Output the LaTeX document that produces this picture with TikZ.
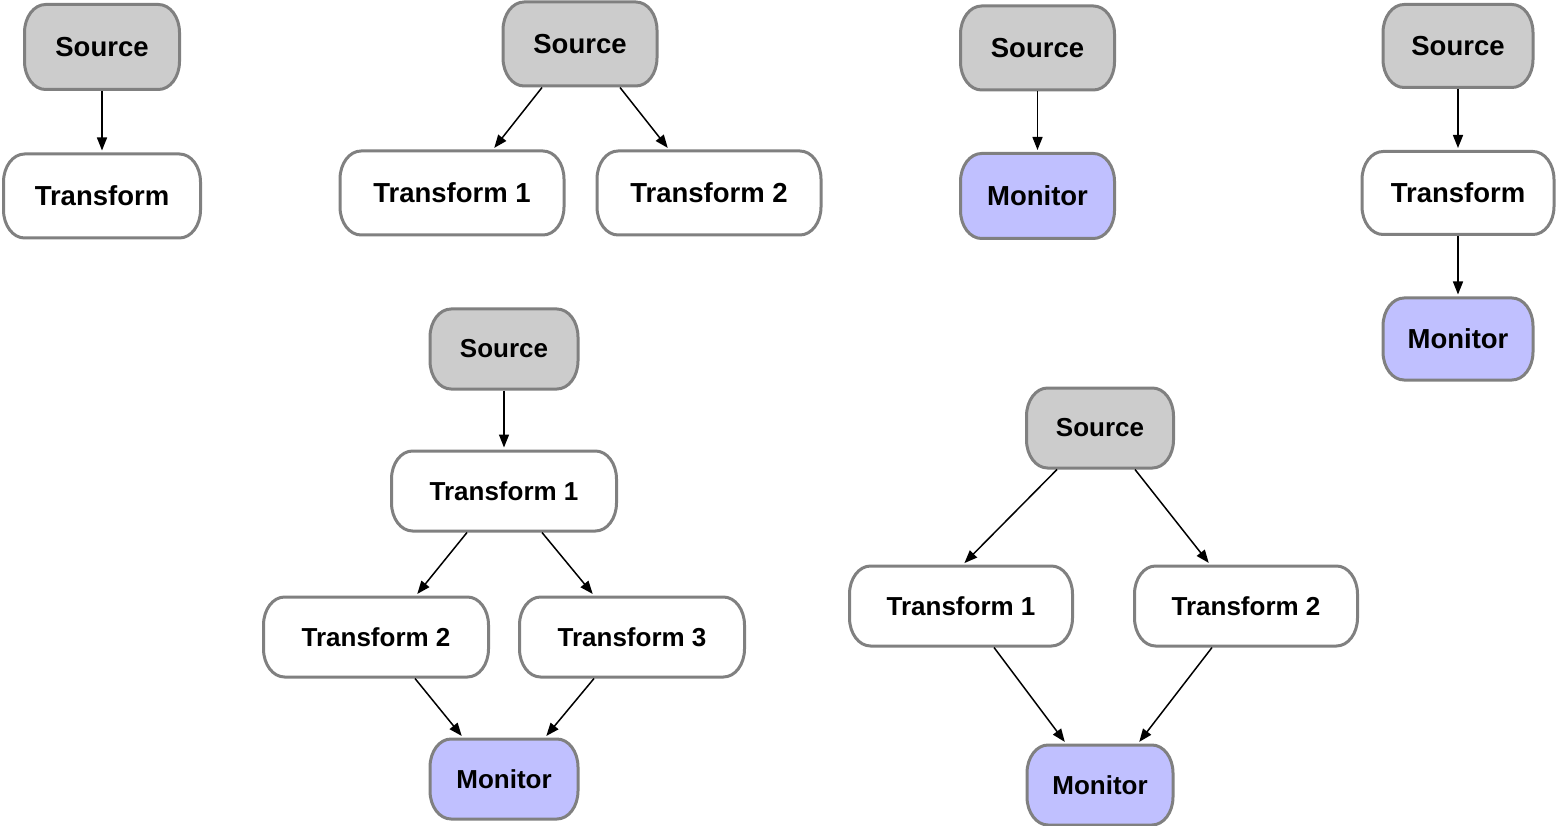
\documentclass[tikz,border=0pt]{standalone}
\usepackage{fontspec}
\setmainfont{Liberation Sans}
\usetikzlibrary{arrows.meta}
\definecolor{srcfill}{HTML}{CCCCCC}
\definecolor{monfill}{HTML}{C0C0FF}
\definecolor{edge}{HTML}{808080}
\tikzset{
  outline/.style={draw=edge, line width=3pt},
  caption/.style={inner sep=0pt, outer sep=1.5pt, align=center},
  big/.style={font=\fontsize{27.5}{32}\bfseries\selectfont},
  small/.style={font=\fontsize{26}{30}\bfseries\selectfont},
  flow/.style={line width=1.5pt, -{Triangle[length=13pt,width=10pt]}, shorten >=2pt}
}
% pill with elliptical corners: fill, font, name, x, y, width, height, text
\newcommand\pill[8]{%
  \pgfmathsetmacro\phw{#6/2}%
  \pgfmathsetmacro\phh{#7/2}%
  \def\prx{21}\def\pry{28}%
  \begin{scope}[shift={(#4,#5)}]
    \path[outline, fill=#1]
      (-\phw+\prx,-\phh) -- (\phw-\prx,-\phh)
      arc[start angle=90, end angle=0, x radius=\prx pt, y radius=\pry pt]
      -- (\phw,\phh-\pry)
      arc[start angle=0, end angle=-90, x radius=\prx pt, y radius=\pry pt]
      -- (-\phw+\prx,\phh)
      arc[start angle=-90, end angle=-180, x radius=\prx pt, y radius=\pry pt]
      -- (-\phw,-\phh+\pry)
      arc[start angle=180, end angle=90, x radius=\prx pt, y radius=\pry pt]
      -- cycle;
  \end{scope}
  \node[caption, #2, minimum width=#6pt, minimum height=#7pt] (#3) at (#4,#5) {#8};
}
\begin{document}
\begin{tikzpicture}[x=1pt,y=-1pt]
\useasboundingbox (0,0) rectangle (1556,826);

% single transform
\pill{srcfill}{big}{a1}{102}{47}{155}{85}{Source}
\pill{white}{big}{a2}{102}{196}{197}{84}{Transform}
\draw[flow] (a1.south) -- (a2.north);

% fan-out to two transforms
\pill{srcfill}{big}{b1}{580}{44}{154}{84}{Source}
\pill{white}{big}{b2}{452}{193}{224}{84}{Transform 1}
\pill{white}{big}{b3}{709}{193}{224}{84}{Transform 2}
\draw[flow] ([xshift=-38pt]b1.south) -- ([xshift=41pt]b2.north);
\draw[flow] ([xshift=40pt]b1.south) -- ([xshift=-40pt]b3.north);

% source straight to monitor
\pill{srcfill}{big}{c1}{1037.5}{48}{154}{84}{Source}
\pill{monfill}{big}{c2}{1037.5}{196}{154}{85}{Monitor}
\draw[flow] (c1.south) -- (c2.north);

% linear chain
\pill{srcfill}{big}{d1}{1458}{46}{150}{83}{Source}
\pill{white}{big}{d2}{1458}{193}{192}{83}{Transform}
\pill{monfill}{big}{d3}{1458}{339}{150}{82}{Monitor}
\draw[flow] (d1.south) -- (d2.north);
\draw[flow] (d2.south) -- (d3.north);

% diamond after a shared transform
\pill{srcfill}{small}{e1}{504}{349}{148}{80}{Source}
\pill{white}{small}{e2}{504}{491}{225}{80}{Transform 1}
\pill{white}{small}{e3}{376}{637}{225}{80}{Transform 2}
\pill{white}{small}{e4}{632}{637}{225}{80}{Transform 3}
\pill{monfill}{small}{e5}{504}{779}{148}{80}{Monitor}
\draw[flow] (e1.south) -- (e2.north);
\draw[flow] ([xshift=-37pt]e2.south) -- ([xshift=40pt]e3.north);
\draw[flow] ([xshift=38pt]e2.south) -- ([xshift=-38pt]e4.north);
\draw[flow] ([xshift=39pt]e3.south) -- ([xshift=-41pt]e5.north);
\draw[flow] ([xshift=-38pt]e4.south) -- ([xshift=41pt]e5.north);

% diamond from the source
\pill{srcfill}{small}{f1}{1100}{428}{147}{80}{Source}
\pill{white}{small}{f2}{961}{606}{223}{80}{Transform 1}
\pill{white}{small}{f3}{1246}{606}{223}{80}{Transform 2}
\pill{monfill}{small}{f4}{1100}{785}{146}{80}{Monitor}
\draw[flow] ([xshift=-43pt]f1.south) -- ([xshift=2pt]f2.north);
\draw[flow] ([xshift=35pt]f1.south) -- ([xshift=-36pt]f3.north);
\draw[flow] ([xshift=33pt]f2.south) -- ([xshift=-34pt]f4.north);
\draw[flow] ([xshift=-34pt]f3.south) -- ([xshift=38pt]f4.north);
\end{tikzpicture}
\end{document}
